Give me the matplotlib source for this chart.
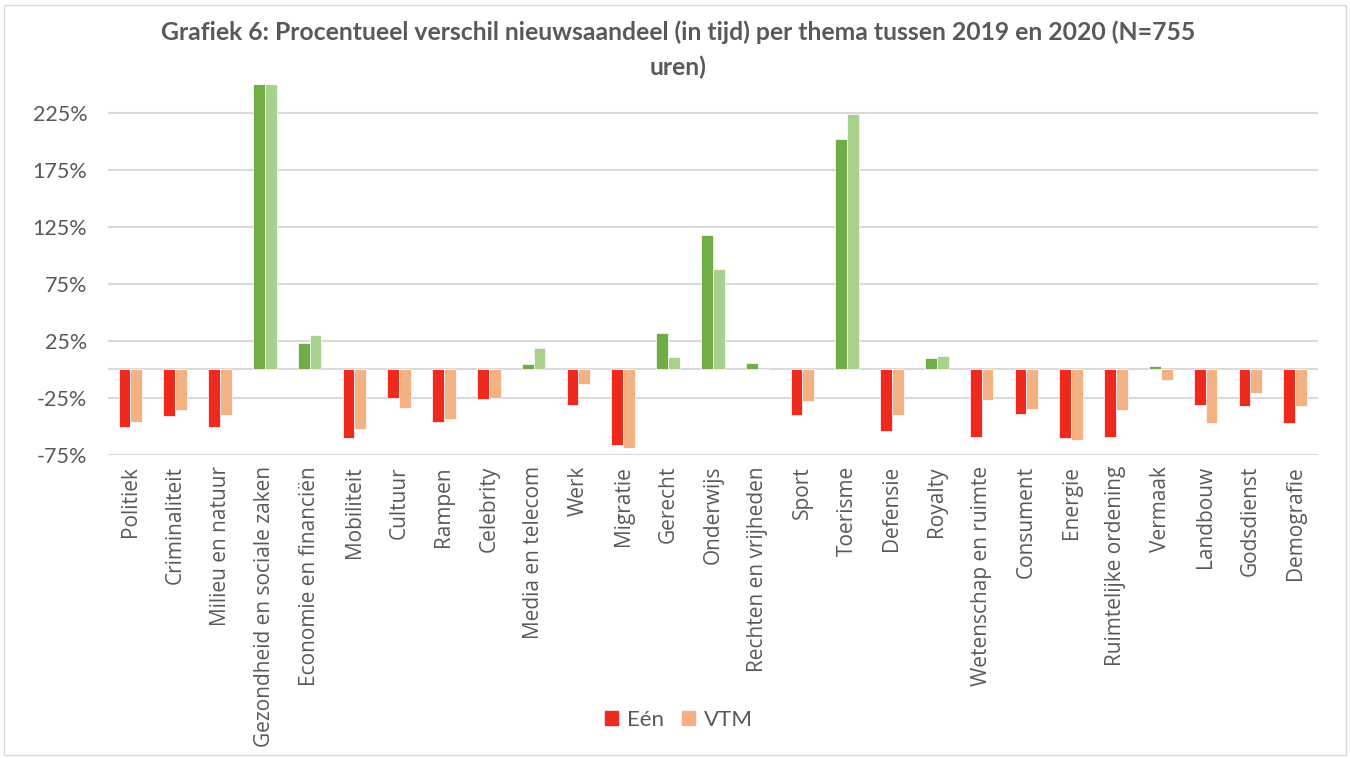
import matplotlib.pyplot as plt
import numpy as np
from matplotlib.patches import Rectangle, Patch

# Thema's en procentueel verschil per zender
themas = ['Politiek', 'Criminaliteit', 'Milieu en natuur', 'Gezondheid en sociale zaken',
          'Economie en financiën', 'Mobiliteit', 'Cultuur', 'Rampen', 'Celebrity',
          'Media en telecom', 'Werk', 'Migratie', 'Gerecht', 'Onderwijs',
          'Rechten en vrijheden', 'Sport', 'Toerisme', 'Defensie', 'Royalty',
          'Wetenschap en ruimte', 'Consument', 'Energie', 'Ruimtelijke ordening',
          'Vermaak', 'Landbouw', 'Godsdienst', 'Demografie']
een = [-51, -41, -51, 280, 23, -60, -25, -46, -26, 5, -31, -66, 32, 118, 6, -40, 202,
       -54, 10, -59, -39, -60, -59, 3, -31, -32, -47]
vtm = [-46, -36, -40, 280, 30, -52, -34, -44, -25, 19, -13, -69, 11, 88, 0, -28, 224,
       -40, 12, -27, -35, -62, -36, -9, -47, -21, -32]
yticks = [-75, -25, 25, 75, 125, 175, 225]

rood, oranje = '#EE2A1E', '#F4B183'
groen, lichtgroen = '#70AD47', '#A9D18E'
grijs = '#595959'

fig = plt.figure(figsize=(13.5, 7.58), dpi=100)
ax = fig.add_axes([0.08, 0.40, 0.896, 0.4885])

x = np.arange(len(themas))
w = 0.265
kl_een = [groen if v > 0 else rood for v in een]
kl_vtm = [lichtgroen if v > 0 else oranje for v in vtm]
ax.bar(x - w/2, een, w, color=kl_een, edgecolor='white', linewidth=0.5, zorder=3)
ax.bar(x + w/2, vtm, w, color=kl_vtm, edgecolor='white', linewidth=0.5, zorder=3)

ax.set_ylim(-75, 250)
ax.set_xlim(-0.5, len(themas) - 0.5)
ax.set_yticks(yticks)
ax.set_yticklabels([f'{t}%' for t in yticks], fontsize=15.5, color=grijs, family='Lato')
ax.yaxis.grid(True, color='#D9D9D9', linewidth=1.5, zorder=0)
ax.axhline(0, color='#D9D9D9', linewidth=1.5, zorder=2)
ax.set_xticks(x)
ax.set_xticklabels(themas, rotation=90, fontsize=15, color=grijs, family='Open Sans',
                   va='top')
ax.tick_params(axis='x', length=0, pad=8)
ax.tick_params(axis='y', length=0, pad=15)
for s in ax.spines.values():
    s.set_visible(False)

fig.text(0.502, 0.957, 'Grafiek 6: Procentueel verschil nieuwsaandeel (in tijd) per thema tussen 2019 en 2020 (N=755',
         ha='center', va='center', fontsize=17.8, fontweight='bold', color=grijs, family='Lato')
fig.text(0.502, 0.911, 'uren)', ha='center', va='center', fontsize=17.8,
         fontweight='bold', color=grijs, family='Lato')

handles = [Patch(color=rood), Patch(color=oranje)]
fig.legend(handles, ['Eén', 'VTM'], loc='center', bbox_to_anchor=(0.503, 0.05), ncol=2,
           frameon=False, prop={'family': 'Lato', 'size': 16}, labelcolor=grijs,
           handlelength=0.6, handleheight=0.6, handletextpad=0.4, columnspacing=0.8)

fig.patches.append(Rectangle((0.003, 0.004), 0.994, 0.99, transform=fig.transFigure,
                             fill=False, edgecolor='#D9D9D9', linewidth=1))

fig.savefig('out.png', dpi=100)
